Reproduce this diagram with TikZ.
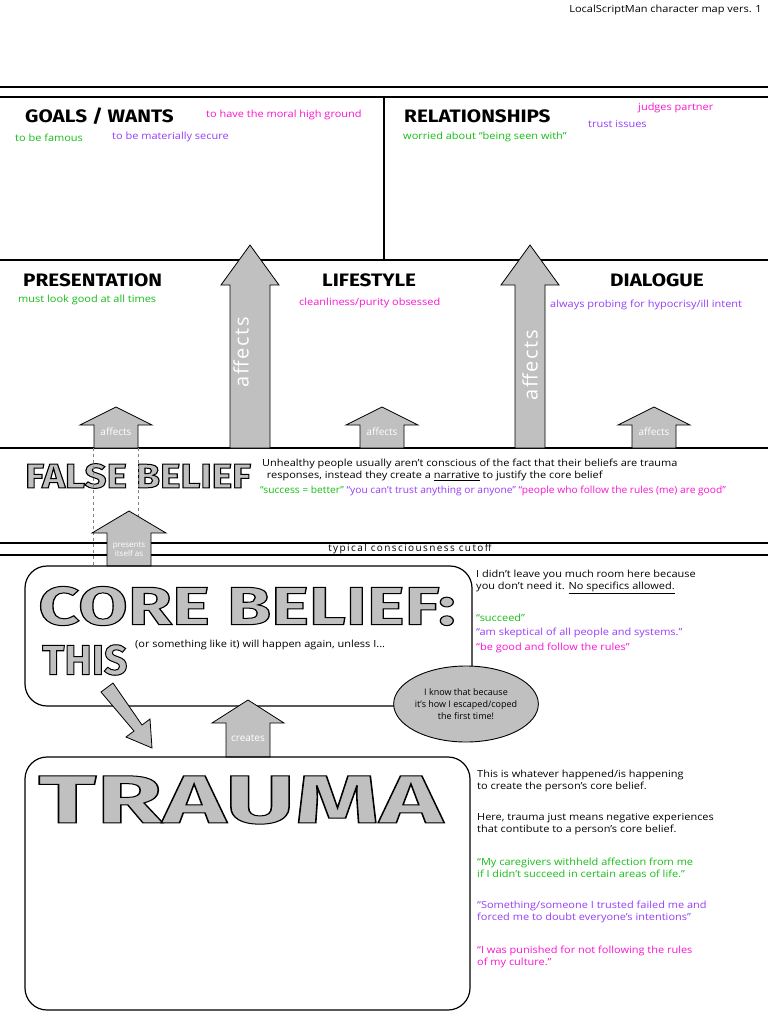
\documentclass[tikz,border=0pt]{standalone}
\usepackage{fontspec}
\setmainfont{Open Sans}
\newfontfamily\headf{Fira Sans}
\usetikzlibrary{arrows.meta,shapes.geometric}
\definecolor{grn}{RGB}{20,190,20}
\definecolor{mag}{RGB}{250,20,210}
\definecolor{pur}{RGB}{150,60,250}
\definecolor{gry}{RGB}{192,192,192}
\newcommand{\outl}[1]{\special{pdf:code q 1.0 w 2 Tr 0 0 0 RG}#1\special{pdf:code Q}}
\begin{document}
\begin{tikzpicture}[x=1pt,y=-1pt,
  txt/.style={font=\fontsize{9.8}{12.5}\selectfont,inner sep=0pt,anchor=west,align=left,xscale=1.12},
  head/.style={font=\headf\bfseries\fontsize{18}{18}\selectfont,inner sep=0pt,anchor=west,xscale=1.15},
  big/.style={font=\headf\bfseries\fontsize{#1}{#1}\selectfont,inner sep=0pt,anchor=west,text=gry},
  arw/.style={draw=black,fill=gry,line width=0.8pt},
  lab/.style={text=white,font=\fontsize{10}{10}\selectfont,inner sep=0pt},
  ln/.style={line width=1.2pt}]
\useasboundingbox (0,0) rectangle (768,1024);
\fill[white] (0,0) rectangle (768,1024);
\node[txt,anchor=east] (ver) at (762,10) {LocalScriptMan character map vers. 1};
% frame lines
\draw[ln] (0,87) -- (768,87);
\draw[ln] (0,97) -- (768,97);
\draw[ln] (384,97) -- (384,260);
\draw[ln] (0,260) -- (768,260);
\draw[ln] (0,448) -- (768,448);
\draw[ln] (0,543) -- (768,543);
\draw[ln] (0,555) -- (768,555);
\node[font=\fontsize{10}{10}\selectfont\addfontfeature{LetterSpace=14},inner sep=0pt] (cut) at (410,549) {typical consciousness cutoff};
% headings
\node[head] (gw) at (25,116) {GOALS / WANTS};
\node[txt,text=mag] (g1) at (206,115) {to have the moral high ground};
\node[txt,text=grn] (g2) at (15,138) {to be famous};
\node[txt,text=pur] (g3) at (112,137) {to be materially secure};
\node[head] (rel) at (404,116) {RELATIONSHIPS};
\node[txt,text=mag] (r1) at (638,108) {judges partner};
\node[txt,text=pur] (r2) at (588,124) {trust issues};
\node[txt,text=grn] (r3) at (403,137) {worried about “being seen with”};
\node[head] (pres) at (23,280) {PRESENTATION};
\node[txt,text=grn] (p1) at (18,300) {must look good at all times};
\node[head] (life) at (322,280) {LIFESTYLE};
\node[txt,text=mag] (l1) at (299,303) {cleanliness/purity obsessed};
\node[head] (dia) at (610,280) {DIALOGUE};
\node[txt,text=pur] (d1) at (550,305) {always probing for hypocrisy/ill intent};
% big arrows
\draw[arw] (230,448) -- (230,285) -- (221,285) -- (250,245) -- (279,285) -- (270,285) -- (270,448) -- cycle;
\node[lab,rotate=90,font=\fontsize{20}{20}\selectfont\addfontfeature{LetterSpace=8}] (a1) at (241,352) {affects};
\draw[arw] (515,448) -- (515,285) -- (501,285) -- (530,245) -- (559,285) -- (545,285) -- (545,448) -- cycle;
\node[lab,rotate=90,font=\fontsize{20}{20}\selectfont\addfontfeature{LetterSpace=8}] (a2) at (530,365) {affects};
% small arrows
\foreach \cx/\nm in {116/s1,382/s2,654/s3}{
  \draw[arw] (\cx-22,448) -- (\cx-22,425) -- (\cx-36,425) -- (\cx,407) -- (\cx+36,425) -- (\cx+22,425) -- (\cx+22,448) -- cycle;
  \node[lab] (\nm) at (\cx,432) {affects};
}
% false belief
\node[big=34,xscale=1.14] (fb) at (25,476) {\outl{FALSE BELIEF}};
\node[txt] (fbt) at (262,470) {Unhealthy people usually aren’t conscious of the fact that their beliefs are trauma\\\ \,responses, instead they create a \underline{narrative} to justify the core belief};
\node[txt,xscale=0.93] (fbq) at (260,491) {\textcolor{grn}{“success = better”} \textcolor{pur}{“you can’t trust anything or anyone”} \textcolor{mag}{“people who follow the rules (me) are good”}};
\draw[dashed,gray,line width=0.8pt] (93,448) -- (93,566);
\draw[dashed,gray,line width=0.8pt] (138,448) -- (138,566);
\draw[arw] (107,566) -- (107,533) -- (92,533) -- (129,511) -- (166,533) -- (151,533) -- (151,566) -- cycle;
\node[lab,align=center,font=\fontsize{8}{9}\selectfont] (pia) at (129,549) {presents\\itself as};
% core belief
\draw[ln,rounded corners=22] (25,566) rectangle (472,706);
\node[big=54,xscale=1.33] (cb) at (38,606) {\outl{CORE BELIEF:}};
\node[big=42,xscale=0.98] (this) at (42,660) {\outl{THIS}};
\node[txt] (cbt) at (135,645) {(or something like it) will happen again, unless I...};
\node[txt] (cr1) at (476,582) {I didn’t leave you much room here because\\you don’t need it. \underline{No specifics allowed.}};
\node[txt,text=grn] (cr2) at (476,618) {“succeed”};
\node[txt,text=pur] (cr3) at (476,633) {“am skeptical of all people and systems.”};
\node[txt,text=mag] (cr4) at (476,648) {“be good and follow the rules”};
\node[ellipse,draw,fill=gry,line width=0.9pt,minimum width=112,minimum height=76,align=center,inner sep=0pt,font=\fontsize{9}{12}\selectfont] (ell) at (466,704) {I know that because\\it’s how I escaped/coped\\the first time!};
% arrows between
\draw[arw] (101,692) -- (113,683) -- (142,725) -- (150,719) -- (152,748) -- (126,737) -- (134,731) -- cycle;
\draw[arw] (226,757) -- (226,723) -- (212,723) -- (248,700) -- (284,723) -- (270,723) -- (270,757) -- cycle;
\node[lab] (cre) at (248,738) {creates};
% trauma
\draw[ln,rounded corners=22] (25,757) rectangle (470,1010);
\node[big=68,xscale=1.58] (tr) at (38,800) {\outl{TRAUMA}};
\node[txt] (t1) at (477,781) {This is whatever happened/is happening\\to create the person’s core belief.};
\node[txt] (t2) at (477,824) {Here, trauma just means negative experiences\\that contibute to a person’s core belief.};
\node[txt,text=grn] (t3) at (477,868) {“My caregivers withheld affection from me\\if I didn’t succeed in certain areas of life.”};
\node[txt,text=pur] (t4) at (477,912) {“Something/someone I trusted failed me and\\forced me to doubt everyone’s intentions”};
\node[txt,text=mag] (t5) at (477,957) {“I was punished for not following the rules\\of my culture.”};
\end{tikzpicture}
\end{document}
